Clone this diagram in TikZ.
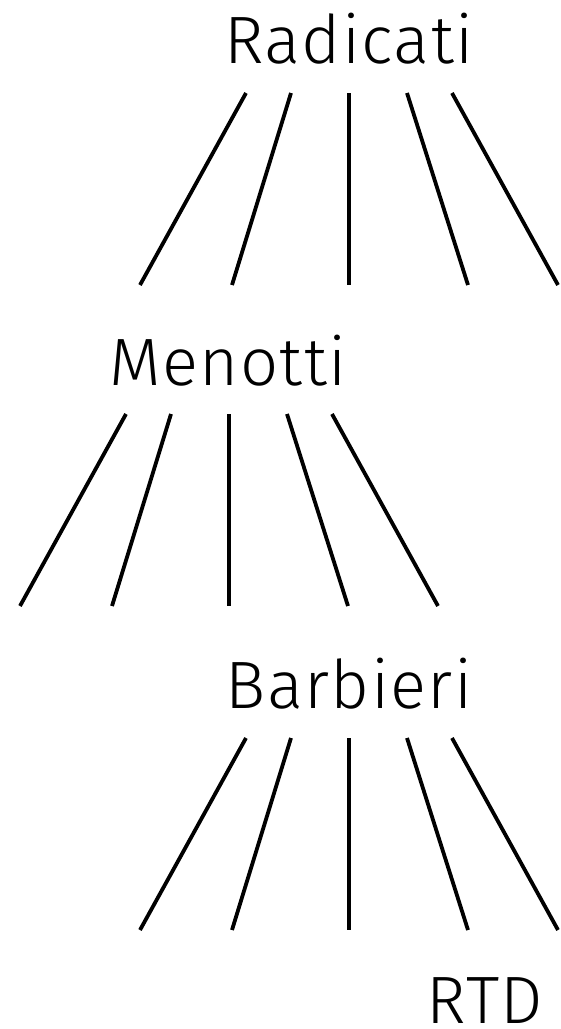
\documentclass[tikz,border=0pt]{standalone}
\usepackage{fontspec}
\setmainfont{Fira Sans}[UprightFont=* Light,LetterSpace=2]
\begin{document}
\begin{tikzpicture}[x=1pt,y=-1pt,
  lbl/.style={anchor=base,inner sep=0pt,font=\fontsize{67}{67}\selectfont},
  ln/.style={line width=3.8pt}]
\useasboundingbox (0,0) rectangle (561,1029);
\node[lbl] (rad) at (349,63) {Radicati};
\node[lbl] (men) at (228,385) {Menotti};
\node[lbl] (bar) at (349,708) {Barbieri};
\node[lbl] (rtd) at (485,1023) {RTD};
\foreach \dy/\dx/\n in {0/0/a,321/-120/b,645/0/c}{
  \foreach \tx/\bx/\i in {246/140/1,291/232/2,349/349/3,407/468/4,452/558/5}{
    \coordinate (\n t\i) at (\tx+\dx,93+\dy);
    \coordinate (\n b\i) at (\bx+\dx,285+\dy);
    \draw[ln] (\n t\i) -- (\n b\i);
  }
}
\end{tikzpicture}
\end{document}
